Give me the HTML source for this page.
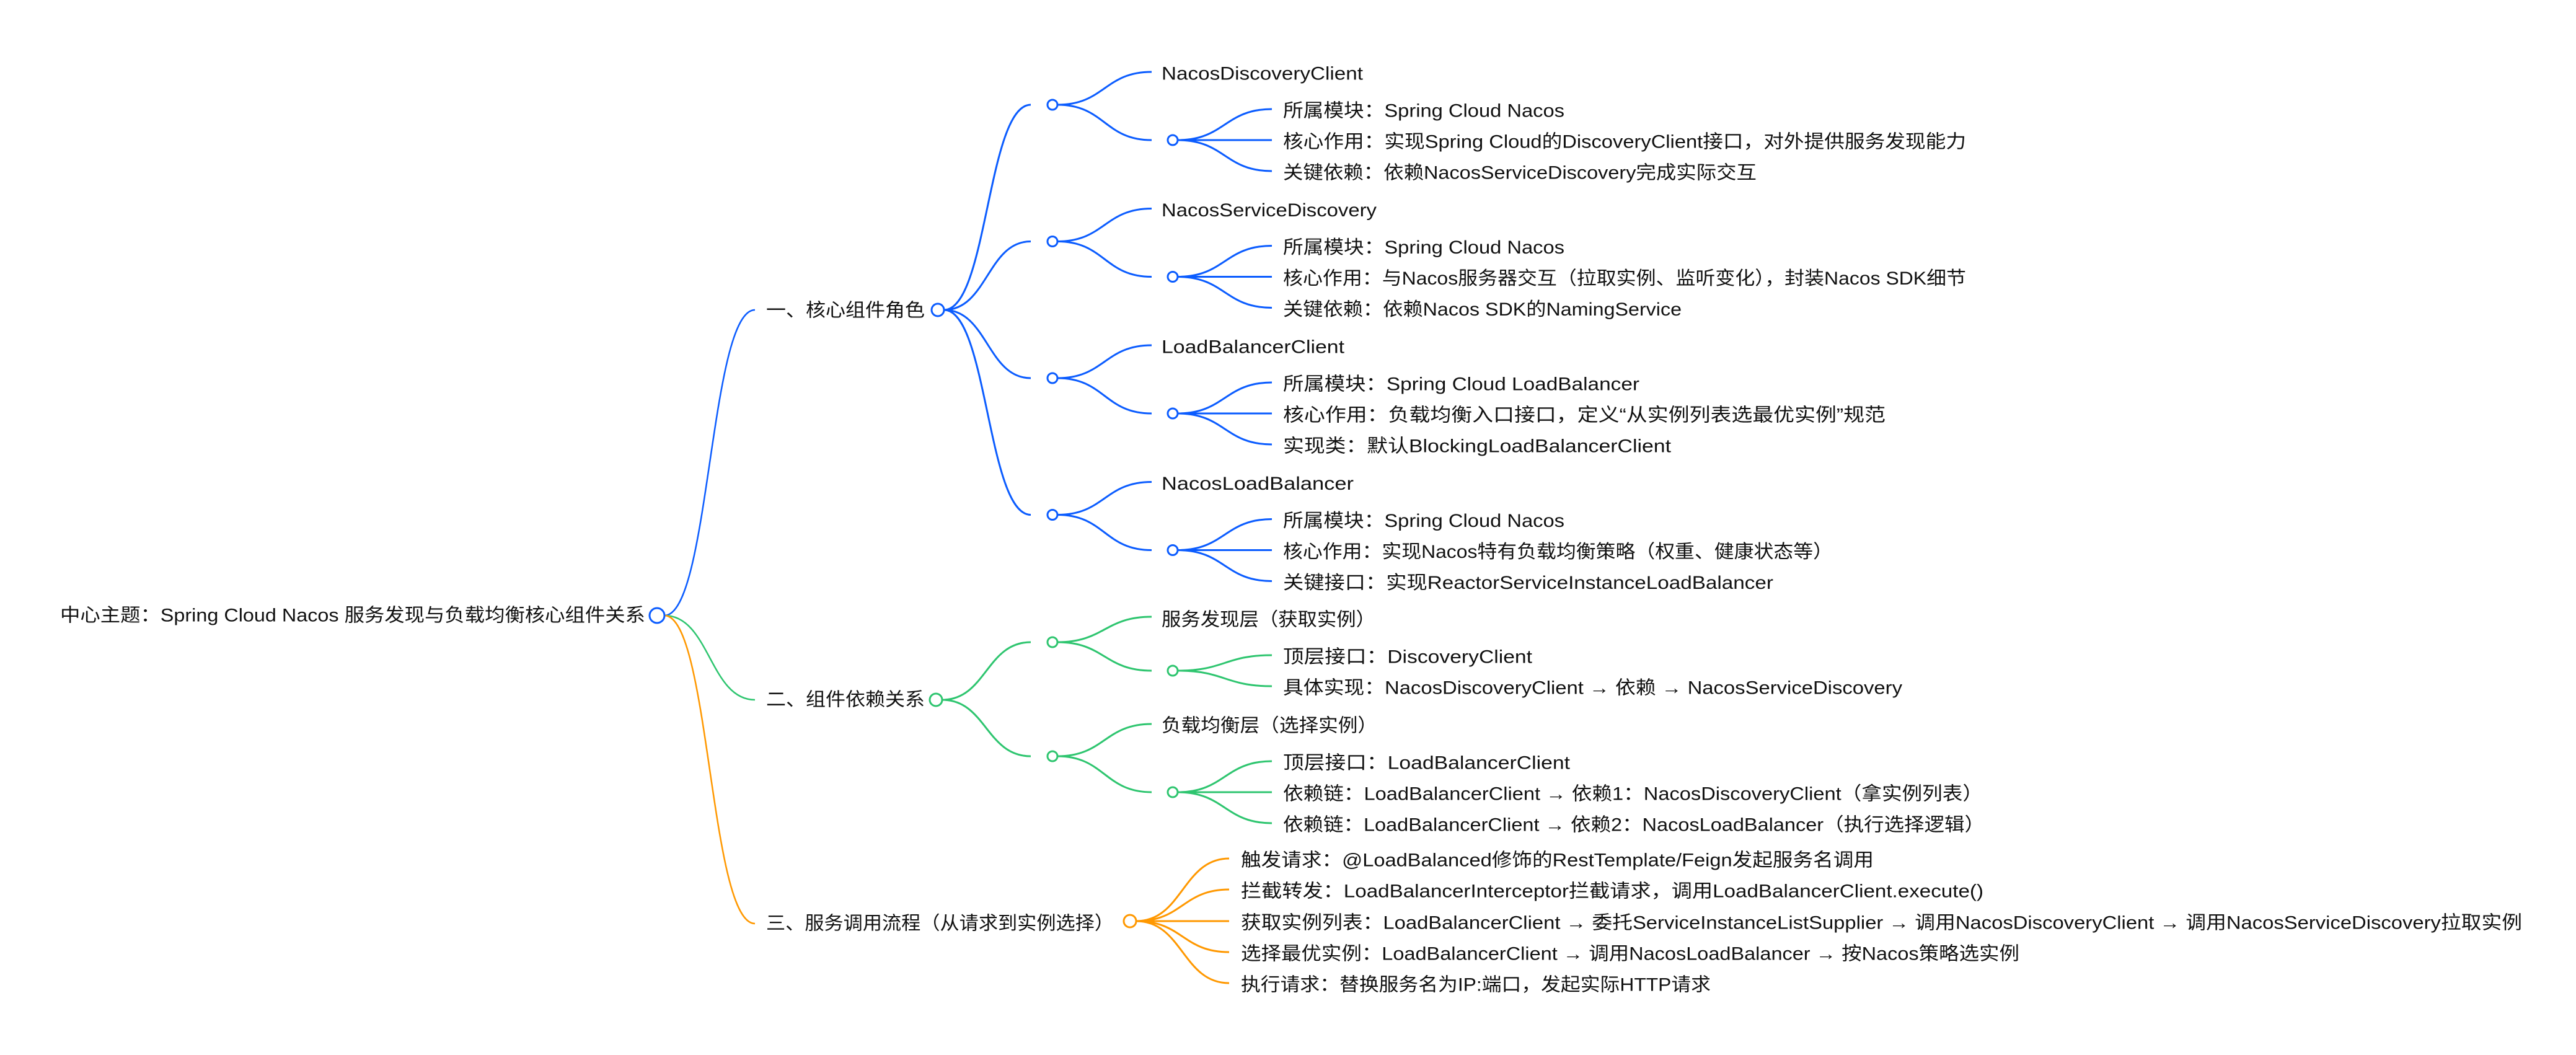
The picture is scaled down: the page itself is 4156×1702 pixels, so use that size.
<!DOCTYPE html>
<html><head><meta charset="utf-8"><style>
html,body{margin:0;padding:0;background:#fff;}
svg{display:block}
text{font-family:"Liberation Sans","Noto Sans CJK SC",sans-serif;font-size:30px;fill:#111;dominant-baseline:central}
.b{stroke:#0b5cff}.g{stroke:#2ec56f}.o{stroke:#ff9800}
path,line{fill:none;stroke-width:3}
circle{fill:#fff;stroke-width:3}
</style></head><body>
<svg width="4156" height="1702" viewBox="0 0 4156 1702" xmlns="http://www.w3.org/2000/svg">
<!-- root -->
<text x="97" y="993" textLength="944" lengthAdjust="spacingAndGlyphs">中心主题：Spring Cloud Nacos 服务发现与负载均衡核心组件关系</text>
<path class="b" style="stroke-width:2.5" d="M1072 993 C1145 993 1145 500 1218 500"/>
<path class="g" style="stroke-width:2.5" d="M1072 993 C1145 993 1145 1129 1218 1129"/>
<path class="o" style="stroke-width:2.5" d="M1072 993 C1145 993 1145 1490 1218 1490"/>
<circle class="b" cx="1060" cy="993" r="12"/>

<!-- L1 -->
<text x="1236" y="501" textLength="256" lengthAdjust="spacingAndGlyphs">一、核心组件角色</text>
<text x="1236" y="1129" textLength="256" lengthAdjust="spacingAndGlyphs">二、组件依赖关系</text>
<text x="1236" y="1490" textLength="561" lengthAdjust="spacingAndGlyphs">三、服务调用流程（从请求到实例选择）</text>

<!-- G1 connectors from L1 circle -->
<path class="b" d="M1523 500 C1593 500 1593 169 1663 169"/>
<path class="b" d="M1523 500 C1593 500 1593 389.5 1663 389.5"/>
<path class="b" d="M1523 500 C1593 500 1593 610 1663 610"/>
<path class="b" d="M1523 500 C1593 500 1593 830.5 1663 830.5"/>
<circle class="b" cx="1513" cy="500" r="10"/>

<!-- G1 groups -->
<g id="g1a">
<path class="b" d="M1706 169 C1782 169 1782 116 1858 116"/>
<path class="b" d="M1706 169 C1782 169 1782 226 1858 226"/>
<circle class="b" cx="1698" cy="169" r="8"/>
<path class="b" d="M1900 226 C1976 226 1976 176 2052 176"/>
<line class="b" x1="1900" y1="226" x2="2052" y2="226"/>
<path class="b" d="M1900 226 C1976 226 1976 276 2052 276"/>
<circle class="b" cx="1892" cy="226" r="8"/>
</g>
<g transform="translate(0,220.5)">
<path class="b" d="M1706 169 C1782 169 1782 116 1858 116"/>
<path class="b" d="M1706 169 C1782 169 1782 226 1858 226"/>
<circle class="b" cx="1698" cy="169" r="8"/>
<path class="b" d="M1900 226 C1976 226 1976 176 2052 176"/>
<line class="b" x1="1900" y1="226" x2="2052" y2="226"/>
<path class="b" d="M1900 226 C1976 226 1976 276 2052 276"/>
<circle class="b" cx="1892" cy="226" r="8"/>
</g>
<g transform="translate(0,441)">
<path class="b" d="M1706 169 C1782 169 1782 116 1858 116"/>
<path class="b" d="M1706 169 C1782 169 1782 226 1858 226"/>
<circle class="b" cx="1698" cy="169" r="8"/>
<path class="b" d="M1900 226 C1976 226 1976 176 2052 176"/>
<line class="b" x1="1900" y1="226" x2="2052" y2="226"/>
<path class="b" d="M1900 226 C1976 226 1976 276 2052 276"/>
<circle class="b" cx="1892" cy="226" r="8"/>
</g>
<g transform="translate(0,661.5)">
<path class="b" d="M1706 169 C1782 169 1782 116 1858 116"/>
<path class="b" d="M1706 169 C1782 169 1782 226 1858 226"/>
<circle class="b" cx="1698" cy="169" r="8"/>
<path class="b" d="M1900 226 C1976 226 1976 176 2052 176"/>
<line class="b" x1="1900" y1="226" x2="2052" y2="226"/>
<path class="b" d="M1900 226 C1976 226 1976 276 2052 276"/>
<circle class="b" cx="1892" cy="226" r="8"/>
</g>

<!-- G1 texts -->
<text x="1874" y="119" textLength="325" lengthAdjust="spacingAndGlyphs">NacosDiscoveryClient</text>
<text x="2070" y="179" textLength="454" lengthAdjust="spacingAndGlyphs">所属模块：Spring Cloud Nacos</text>
<text x="2070" y="229" textLength="1102" lengthAdjust="spacingAndGlyphs">核心作用：实现Spring Cloud的DiscoveryClient接口，对外提供服务发现能力</text>
<text x="2070" y="279" textLength="764" lengthAdjust="spacingAndGlyphs">关键依赖：依赖NacosServiceDiscovery完成实际交互</text>

<text x="1874" y="339.5" textLength="347" lengthAdjust="spacingAndGlyphs">NacosServiceDiscovery</text>
<text x="2070" y="399.5" textLength="454" lengthAdjust="spacingAndGlyphs">所属模块：Spring Cloud Nacos</text>
<text x="2070" y="449.5" textLength="1102" lengthAdjust="spacingAndGlyphs">核心作用：与Nacos服务器交互（拉取实例、监听变化），封装Nacos SDK细节</text>
<text x="2070" y="499.5" textLength="643" lengthAdjust="spacingAndGlyphs">关键依赖：依赖Nacos SDK的NamingService</text>

<text x="1874" y="560" textLength="295" lengthAdjust="spacingAndGlyphs">LoadBalancerClient</text>
<text x="2070" y="620" textLength="575" lengthAdjust="spacingAndGlyphs">所属模块：Spring Cloud LoadBalancer</text>
<text x="2070" y="670" textLength="972" lengthAdjust="spacingAndGlyphs">核心作用：负载均衡入口接口，定义“从实例列表选最优实例”规范</text>
<text x="2070" y="720" textLength="626" lengthAdjust="spacingAndGlyphs">实现类：默认BlockingLoadBalancerClient</text>

<text x="1874" y="780.5" textLength="310" lengthAdjust="spacingAndGlyphs">NacosLoadBalancer</text>
<text x="2070" y="840.5" textLength="454" lengthAdjust="spacingAndGlyphs">所属模块：Spring Cloud Nacos</text>
<text x="2070" y="890.5" textLength="887" lengthAdjust="spacingAndGlyphs">核心作用：实现Nacos特有负载均衡策略（权重、健康状态等）</text>
<text x="2070" y="940.5" textLength="791" lengthAdjust="spacingAndGlyphs">关键接口：实现ReactorServiceInstanceLoadBalancer</text>

<!-- G2 -->
<path class="g" d="M1520 1129 C1591 1129 1591 1036 1663 1036"/>
<path class="g" d="M1520 1129 C1591 1129 1591 1220 1663 1220"/>
<circle class="g" cx="1510" cy="1129" r="10"/>

<path class="g" d="M1706 1036 C1782 1036 1782 995 1858 995"/>
<path class="g" d="M1706 1036 C1782 1036 1782 1082 1858 1082"/>
<circle class="g" cx="1698" cy="1036" r="8"/>
<path class="g" d="M1900 1082 C1976 1082 1976 1057 2052 1057"/>
<path class="g" d="M1900 1082 C1976 1082 1976 1107 2052 1107"/>
<circle class="g" cx="1892" cy="1082" r="8"/>

<path class="g" d="M1706 1220 C1782 1220 1782 1168 1858 1168"/>
<path class="g" d="M1706 1220 C1782 1220 1782 1278 1858 1278"/>
<circle class="g" cx="1698" cy="1220" r="8"/>
<path class="g" d="M1900 1278 C1976 1278 1976 1228 2052 1228"/>
<line class="g" x1="1900" y1="1278" x2="2052" y2="1278"/>
<path class="g" d="M1900 1278 C1976 1278 1976 1328 2052 1328"/>
<circle class="g" cx="1892" cy="1278" r="8"/>

<text x="1874" y="1000" textLength="345" lengthAdjust="spacingAndGlyphs">服务发现层（获取实例）</text>
<text x="2070" y="1060" textLength="402" lengthAdjust="spacingAndGlyphs">顶层接口：DiscoveryClient</text>
<text x="2070" y="1110" textLength="999" lengthAdjust="spacingAndGlyphs">具体实现：NacosDiscoveryClient → 依赖 → NacosServiceDiscovery</text>
<text x="1874" y="1171" textLength="348" lengthAdjust="spacingAndGlyphs">负载均衡层（选择实例）</text>
<text x="2070" y="1231" textLength="463" lengthAdjust="spacingAndGlyphs">顶层接口：LoadBalancerClient</text>
<text x="2070" y="1281" textLength="1129" lengthAdjust="spacingAndGlyphs">依赖链：LoadBalancerClient → 依赖1：NacosDiscoveryClient（拿实例列表）</text>
<text x="2070" y="1331" textLength="1132" lengthAdjust="spacingAndGlyphs">依赖链：LoadBalancerClient → 依赖2：NacosLoadBalancer（执行选择逻辑）</text>

<!-- G3 -->
<path class="o" d="M1833 1486 C1908 1486 1908 1385 1983 1385"/>
<path class="o" d="M1833 1486 C1908 1486 1908 1435 1983 1435"/>
<line class="o" x1="1833" y1="1486" x2="1983" y2="1486"/>
<path class="o" d="M1833 1486 C1908 1486 1908 1536 1983 1536"/>
<path class="o" d="M1833 1486 C1908 1486 1908 1586 1983 1586"/>
<circle class="o" cx="1823" cy="1486" r="10"/>

<text x="2002" y="1388" textLength="1021" lengthAdjust="spacingAndGlyphs">触发请求：@LoadBalanced修饰的RestTemplate/Feign发起服务名调用</text>
<text x="2002" y="1438" textLength="1198" lengthAdjust="spacingAndGlyphs">拦截转发：LoadBalancerInterceptor拦截请求，调用LoadBalancerClient.execute()</text>
<text x="2002" y="1489" textLength="2067" lengthAdjust="spacingAndGlyphs">获取实例列表：LoadBalancerClient → 委托ServiceInstanceListSupplier → 调用NacosDiscoveryClient → 调用NacosServiceDiscovery拉取实例</text>
<text x="2002" y="1539" textLength="1256" lengthAdjust="spacingAndGlyphs">选择最优实例：LoadBalancerClient → 调用NacosLoadBalancer → 按Nacos策略选实例</text>
<text x="2002" y="1589" textLength="758" lengthAdjust="spacingAndGlyphs">执行请求：替换服务名为IP:端口，发起实际HTTP请求</text>
</svg>
</body></html>
